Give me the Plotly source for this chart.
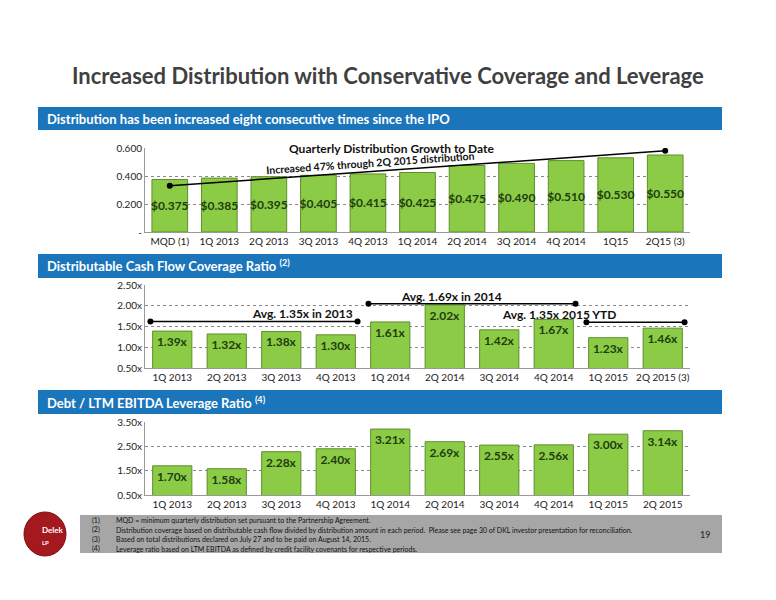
import plotly.graph_objects as go

dist_cats = ["MQD (1)", "1Q 2013", "2Q 2013", "3Q 2013", "4Q 2013", "1Q 2014", "2Q 2014", "3Q 2014", "4Q 2014", "1Q15", "2Q15 (3)"]
dist_vals = [0.375, 0.385, 0.395, 0.405, 0.415, 0.425, 0.475, 0.490, 0.510, 0.530, 0.550]
cov_cats = ["1Q 2013", "2Q 2013", "3Q 2013", "4Q 2013", "1Q 2014", "2Q 2014", "3Q 2014", "4Q 2014", "1Q 2015", "2Q 2015 (3)"]
cov_vals = [1.39, 1.32, 1.38, 1.30, 1.61, 2.02, 1.42, 1.67, 1.23, 1.46]
lev_cats = ["1Q 2013", "2Q 2013", "3Q 2013", "4Q 2013", "1Q 2014", "2Q 2014", "3Q 2014", "4Q 2014", "1Q 2015", "2Q 2015"]
lev_vals = [1.70, 1.58, 2.28, 2.40, 3.21, 2.69, 2.55, 2.56, 3.00, 3.14]
growth_line = [0.33, 0.58]
avg_levels = [1.62, 2.05, 1.60]

W, H = 776, 600
OFF = 8
def px(y): return 1 - (y - OFF) / H
def pxx(x): return (x - OFF) / W

FONT = "Lato"
GREEN = "#8CCB45"
EDGE = "#5E8F2C"
BLUE = "#1B75BB"
TXT = "#1E3D10"

fig = go.Figure()
fig.add_trace(go.Bar(x=list(range(len(dist_vals))), y=dist_vals, xaxis="x", yaxis="y",
    marker=dict(color=GREEN, line=dict(color=EDGE, width=1)), width=0.72,
    text=[f"<b>${v:.3f}</b>" for v in dist_vals], textposition="inside", insidetextanchor="middle",
    textfont=dict(family=FONT, size=12, color=TXT), textangle=0))
fig.add_trace(go.Scatter(x=[0, len(dist_vals) - 1], y=growth_line, xaxis="x", yaxis="y",
    mode="lines+markers", line=dict(color="black", width=1.5), marker=dict(color="black", size=6)))

fig.add_trace(go.Bar(x=list(range(len(cov_vals))), y=cov_vals, xaxis="x2", yaxis="y2", base=0,
    marker=dict(color=GREEN, line=dict(color=EDGE, width=1)), width=0.72,
    text=[f"<b>{v:.2f}x</b>" for v in cov_vals], textposition="inside", insidetextanchor="end",
    textfont=dict(family=FONT, size=12, color=TXT), textangle=0))
spans = [(-0.4, 3.4), (3.6, 7.4), (7.6, 9.4)]
for (a, b), lv in zip(spans, avg_levels):
    fig.add_trace(go.Scatter(x=[a, b], y=[lv, lv], xaxis="x2", yaxis="y2", mode="lines+markers",
        line=dict(color="black", width=1.5), marker=dict(color="black", size=6)))

fig.add_trace(go.Bar(x=list(range(len(lev_vals))), y=lev_vals, xaxis="x3", yaxis="y3", base=0,
    marker=dict(color=GREEN, line=dict(color=EDGE, width=1)), width=0.72,
    text=[f"<b>{v:.2f}x</b>" for v in lev_vals], textposition="inside", insidetextanchor="end",
    textfont=dict(family=FONT, size=12, color=TXT), textangle=0))

xd = [pxx(145), pxx(690)]
ax = dict(domain=xd, showgrid=False, showline=True, linecolor="#999", ticks="",
          tickfont=dict(family=FONT, size=10, color="#222"), zeroline=False)
grid = dict(showgrid=True, gridcolor="#888", griddash="dot", gridwidth=1, zeroline=False,
            tickfont=dict(family=FONT, size=10, color="#222"), showline=True, linecolor="#999")
fig.update_layout(
    width=W, height=H, margin=dict(l=0, r=0, t=0, b=0, pad=0, autoexpand=False), showlegend=False,
    plot_bgcolor="white", paper_bgcolor="white", uniformtext=dict(minsize=8, mode="show"),
    xaxis=dict(ax, anchor="y", range=[-0.5, len(dist_vals) - 0.5], tickvals=list(range(len(dist_cats))), ticktext=dist_cats),
    yaxis=dict(grid, domain=[px(232), px(148)], range=[0, 0.6], tickvals=[0, 0.2, 0.4, 0.6],
               ticktext=["-", "0.200", "0.400", "0.600"], anchor="x"),
    xaxis2=dict(ax, anchor="y2", range=[-0.5, len(cov_vals) - 0.5], tickvals=list(range(len(cov_cats))), ticktext=cov_cats),
    yaxis2=dict(grid, domain=[px(368), px(285)], range=[0.5, 2.5], tickvals=[0.5, 1, 1.5, 2, 2.5],
                ticktext=["0.50x", "1.00x", "1.50x", "2.00x", "2.50x"], anchor="x2"),
    xaxis3=dict(ax, anchor="y3", range=[-0.5, len(lev_vals) - 0.5], tickvals=list(range(len(lev_cats))), ticktext=lev_cats),
    yaxis3=dict(grid, domain=[px(495), px(422)], range=[0.5, 3.5], tickvals=[0.5, 1.5, 2.5, 3.5],
                ticktext=["0.50x", "1.50x", "2.50x", "3.50x"], anchor="x3"),
)

shapes = []
for y0, y1 in [(107, 130), (254, 278), (390, 414)]:
    shapes.append(dict(type="rect", xref="paper", yref="paper", x0=pxx(38), x1=pxx(722), y0=px(y1), y1=px(y0),
                       fillcolor=BLUE, line=dict(width=0), layer="below"))
shapes.append(dict(type="rect", xref="paper", yref="paper", x0=pxx(80), x1=pxx(722), y0=px(553), y1=px(515),
                   fillcolor="#A6A6A6", line=dict(width=0), layer="below"))
shapes.append(dict(type="circle", xref="paper", yref="paper", x0=pxx(24), x1=pxx(66), y0=px(556), y1=px(512),
                   fillcolor="#A3191E", line=dict(color="#7a0f12", width=1), layer="below"))
fig.update_layout(shapes=shapes)

ann = [
    dict(x=pxx(388), y=px(75), text="<b>Increased Distribution with Conservative Coverage and Leverage</b>",
         font=dict(family=FONT, size=22, color="#404040")),
    dict(x=pxx(45), y=px(119), xanchor="left", text="<b>Distribution has been increased eight consecutive times since the IPO</b>",
         font=dict(family=FONT, size=13, color="white")),
    dict(x=pxx(45), y=px(266), xanchor="left", text="<b>Distributable Cash Flow Coverage Ratio <sup>(2)</sup></b>",
         font=dict(family=FONT, size=13, color="white")),
    dict(x=pxx(45), y=px(402), xanchor="left", text="<b>Debt / LTM EBITDA Leverage Ratio <sup>(4)</sup></b>",
         font=dict(family=FONT, size=13, color="white")),
    dict(x=pxx(392), y=px(148), text="<b>Quarterly Distribution Growth to Date</b>", font=dict(family=FONT, size=12, color="#111")),
    dict(x=pxx(370), y=px(163), text="<b>Increased 47% through 2Q 2015 distribution</b>", textangle=-4,
         font=dict(family=FONT, size=10.5, color="#111")),
    dict(x=pxx(250), y=px(313), text="<b>Avg. 1.35x in 2013</b>", font=dict(family=FONT, size=12, color="#111")),
    dict(x=pxx(451), y=px(296), text="<b>Avg. 1.69x in 2014</b>", font=dict(family=FONT, size=12, color="#111")),
    dict(x=pxx(618), y=px(314), text="<b>Avg. 1.35x 2015 YTD</b>", font=dict(family=FONT, size=12, color="#111")),
    dict(x=pxx(40), y=px(530), text="<b>Delek</b>", font=dict(family=FONT, size=8, color="white")),
    dict(x=pxx(40), y=px(542), text="<b>LP</b>", font=dict(family=FONT, size=6, color="white")),
    dict(x=pxx(712), y=px(534), text="19", font=dict(family=FONT, size=9, color="#222")),
]
notes = ["MQD = minimum quarterly distribution set pursuant to the Partnership Agreement.",
         "Distribution coverage based on distributable cash flow divided by distribution amount in each period.  Please see page 30 of DKL investor presentation for reconciliation.",
         "Based on total distributions declared on July 27 and to be paid on August 14, 2015.",
         "Leverage ratio based on LTM EBITDA as defined by credit facility covenants for respective periods."]
for i, n in enumerate(notes):
    yy = px(520 + i * 9.5)
    ann.append(dict(x=pxx(90), y=yy, xanchor="left", text=f"({i+1})", font=dict(family=FONT, size=7, color="#111")))
    ann.append(dict(x=pxx(114), y=yy, xanchor="left", text=n, font=dict(family=FONT, size=7, color="#111")))
for a in ann:
    a.setdefault("xref", "paper"); a["yref"] = "paper"; a["showarrow"] = False; a["yanchor"] = "middle"
fig.update_layout(annotations=ann)
fig.write_html("out.html")
